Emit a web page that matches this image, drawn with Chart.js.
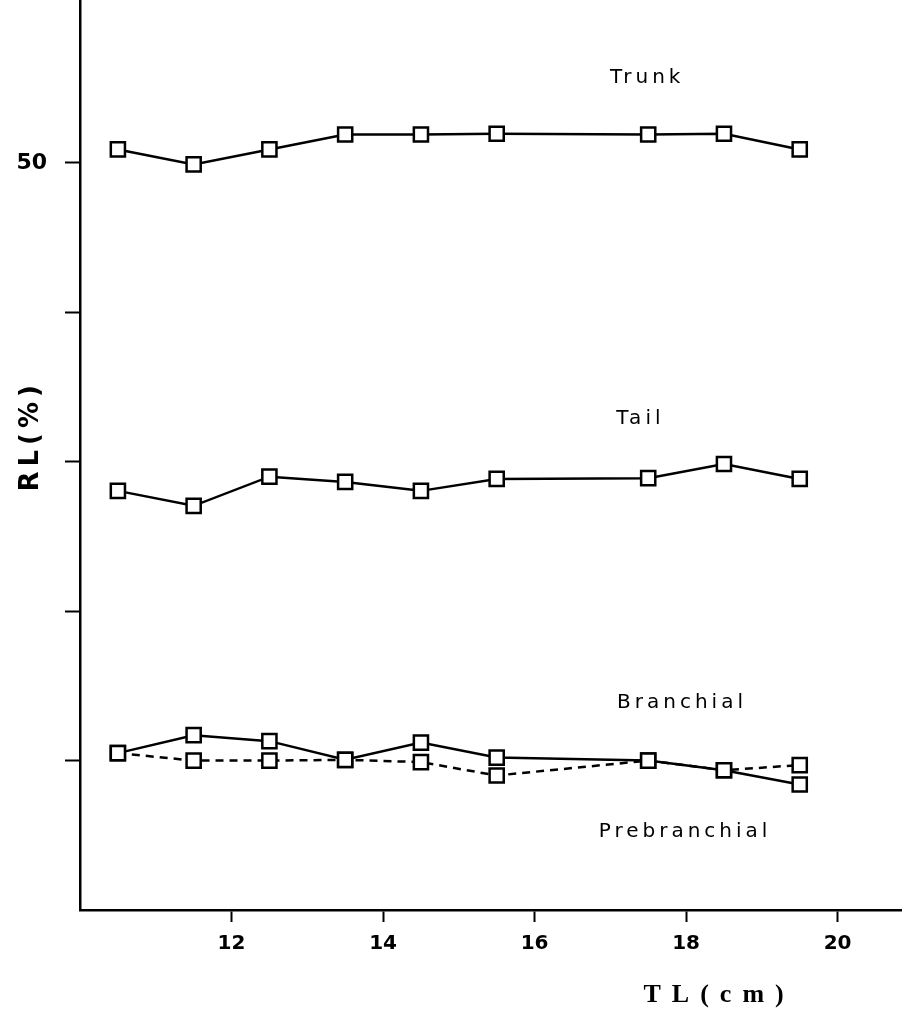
<!DOCTYPE html>
<html>
<head>
<meta charset="utf-8">
<script src="https://cdn.jsdelivr.net/npm/chart.js@4/dist/chart.umd.min.js"></script>
<style>
  body { margin: 0; background: #fff; }
  #wrap { width: 902px; height: 1014px; }
</style>
</head>
<body>
<div id="wrap"><canvas id="chart" width="902" height="1014"></canvas></div>
<script>
// total length (cm) of each size class
const tl = [10.5, 11.5, 12.5, 13.5, 14.5, 15.5, 17.5, 18.5, 19.5];

// relative length (%) per body region
const trunk = [50.9, 49.9, 50.9, 51.9, 51.9, 51.95, 51.9, 51.95, 50.9];
const tail = [28.05, 27.05, 29.0, 28.65, 28.05, 28.85, 28.9, 29.85, 28.85];
const branchial = [10.5, 11.7, 11.3, 10.05, 11.2, 10.2, 10.0, 9.35, 8.4];
const prebranchial = [10.5, 10.0, 10.0, 10.05, 9.9, 9.0, 10.0, 9.35, 9.7];

const xTicks = [12, 14, 16, 18, 20];
const yTicks = [10, 20, 30, 40, 50];
const yLabelled = [50];

const toPoints = arr => arr.map((v, i) => ({ x: tl[i], y: v }));

const makeSet = (label, data, dash) => ({
  label: label,
  data: toPoints(data),
  borderColor: '#000',
  borderWidth: 2.5,
  borderDash: dash,
  pointStyle: 'rect',
  pointRadius: 10,
  pointHoverRadius: 10,
  pointBackgroundColor: '#fff',
  pointBorderColor: '#000',
  pointBorderWidth: 2.5,
  fill: false,
  tension: 0
});

// text placed next to the curves, in data units
const seriesLabels = [
  { text: 'Trunk', x: 17.46, y: 55.7 },
  { text: 'Tail', x: 17.37, y: 32.85 },
  { text: 'Branchial', x: 17.92, y: 13.85 },
  { text: 'Prebranchial', x: 17.96, y: 5.25 }
];

const labelPlugin = {
  id: 'seriesLabels',
  afterDraw(chart) {
    const { ctx, scales: { x, y } } = chart;
    ctx.save();
    ctx.fillStyle = '#000';
    ctx.textAlign = 'center';
    ctx.textBaseline = 'middle';
    ctx.font = '20px "DejaVu Sans"';
    ctx.letterSpacing = '4px';
    seriesLabels.forEach(l => {
      ctx.fillText(l.text, x.getPixelForValue(l.x) + 2, y.getPixelForValue(l.y));
    });
    // x axis title sits right of centre in the original
    ctx.font = 'bold 26px "Liberation Serif"';
    ctx.letterSpacing = '11px';
    ctx.fillText('TL(cm)', x.getPixelForValue(18.37) + 5, x.bottom - 19);
    // y axis title
    ctx.translate(31, y.getPixelForValue(31.6));
    ctx.rotate(-Math.PI / 2);
    ctx.font = 'bold 26px "DejaVu Sans"';
    ctx.letterSpacing = '5px';
    ctx.fillText('RL(%)', 2, 0);
    ctx.restore();
  }
};

new Chart(document.getElementById('chart'), {
  type: 'line',
  data: {
    datasets: [
      makeSet('Prebranchial', prebranchial, [8, 6]),
      makeSet('Branchial', branchial, []),
      makeSet('Tail', tail, []),
      makeSet('Trunk', trunk, [])
    ]
  },
  options: {
    responsive: false,
    animation: false,
    layout: { padding: 0, autoPadding: false },
    plugins: {
      legend: { display: false },
      tooltip: { enabled: false }
    },
    scales: {
      x: {
        type: 'linear',
        min: 10,
        max: 20.85,
        afterFit: s => {
          s.height = 104;
          s.paddingLeft = 0;
          s.paddingRight = 0;
        },
        border: { display: true, color: '#000', width: 2.5 },
        grid: {
          drawOnChartArea: false,
          drawTicks: true,
          tickLength: 12,
          tickWidth: 2,
          tickColor: c => xTicks.includes(c.tick.value) ? '#000' : 'rgba(0,0,0,0)'
        },
        ticks: {
          stepSize: 2,
          includeBounds: false,
          padding: 10,
          color: '#000',
          font: { family: '"DejaVu Sans"', size: 20, weight: 'bold' },
          callback: v => xTicks.includes(v) ? String(v) : ''
        }
      },
      y: {
        type: 'linear',
        min: 0,
        max: 60.9,
        afterFit: s => {
          s.width = 80;
          s.paddingTop = 0;
          s.paddingBottom = 0;
        },
        border: { display: true, color: '#000', width: 2.5 },
        grid: {
          drawOnChartArea: false,
          drawTicks: true,
          tickLength: 15,
          tickWidth: 2,
          tickColor: c => yTicks.includes(c.tick.value) ? '#000' : 'rgba(0,0,0,0)'
        },
        ticks: {
          stepSize: 10,
          includeBounds: false,
          padding: 18,
          color: '#000',
          font: { family: '"DejaVu Sans"', size: 22, weight: 'bold' },
          callback: v => yLabelled.includes(v) ? String(v) : ''
        }
      }
    }
  },
  plugins: [labelPlugin]
});
</script>
</body>
</html>
